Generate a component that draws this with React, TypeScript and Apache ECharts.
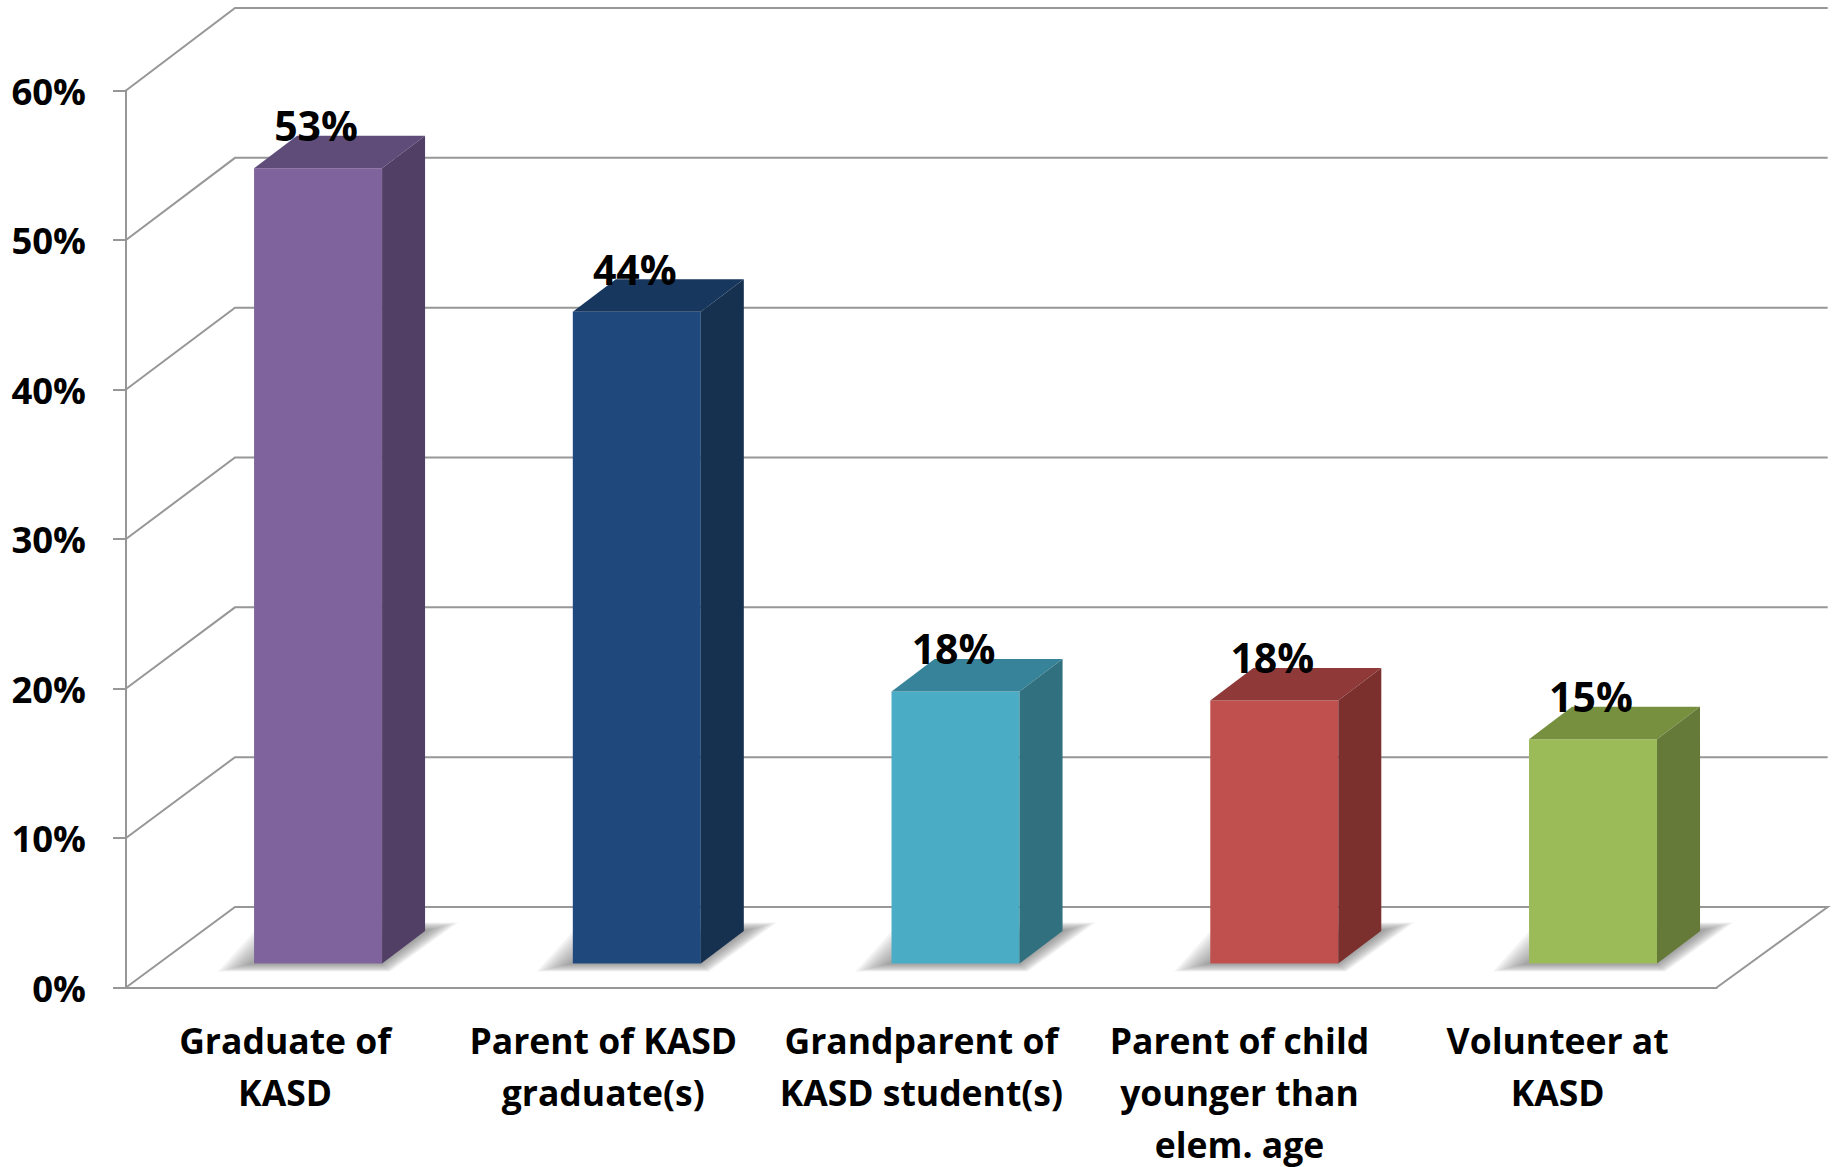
import React, { useEffect, useRef } from "react";
import * as echarts from "echarts";

const categories = [
  "Graduate of\nKASD",
  "Parent of KASD\ngraduate(s)",
  "Grandparent of\nKASD student(s)",
  "Parent of child\nyounger than\nelem. age",
  "Volunteer at\nKASD",
];
const values = [53.2, 43.6, 18.2, 17.6, 15.0];
const gridValues = [0, 10, 20, 30, 40, 50, 60];
const frontColors = ["#7F639D", "#1F497D", "#4BACC6", "#C0504D", "#9BBB59"];
const topColors = ["#604C79", "#17375E", "#37849A", "#8F3A38", "#77903F"];
const sideColors = ["#523F66", "#16304F", "#31707F", "#7B302E", "#657A38"];

const FONT = "'Open Sans', Lato, sans-serif";
const GRID_COLOR = "#979797";
const WALL_DX = 109;
const WALL_DY = 80.5;
const BAR_W = 128;
const BAR_DX = 43;
const BAR_DY = 32.5;
const BAR_SHIFT_X = 33;
const BAR_SHIFT_Y = -24;
const SHADOW_LAYERS = 10;

function renderGrid(params: any, api: any) {
  const v = api.value(0);
  const cs = params.coordSys;
  const y = api.coord([0, v])[1];
  const dy = WALL_DY + (v / 60) * 2;
  const pts = [
    [cs.x, y],
    [cs.x + WALL_DX, y - dy],
    [cs.x + cs.width + WALL_DX + 2, y - dy],
  ];
  if (v === 0) pts.push([cs.x + cs.width, y]);
  return {
    type: "polyline",
    silent: true,
    shape: { points: pts },
    style: { stroke: GRID_COLOR, lineWidth: 2, fill: "none" },
  };
}

function shadowLayers(x0: number, x1: number, yB: number) {
  const outer = [
    [x0 - 36, yB + 8],
    [x1 + 8, yB + 8],
    [x1 + 76, yB - 41],
    [x1 + 40, yB - 41],
    [x0, yB - 32],
  ];
  const inner = [
    [x0 - 6, yB + 1],
    [x1, yB + 1],
    [x1 + 48, yB - 34],
    [x1 + 30, yB - 34],
    [x0 + 10, yB - 8],
  ];
  const layers = [];
  for (let k = 0; k < SHADOW_LAYERS; k++) {
    const t = k / (SHADOW_LAYERS - 1);
    layers.push({
      type: "polygon",
      shape: {
        points: outer.map((p, j) => [
          p[0] + (inner[j][0] - p[0]) * t,
          p[1] + (inner[j][1] - p[1]) * t,
        ]),
      },
      style: { fill: "rgba(90,90,90,0.075)" },
    });
  }
  return layers;
}

function renderBar(params: any, api: any) {
  const i = params.dataIndex;
  const top = api.coord([i, api.value(1)]);
  const base = api.coord([i, 0]);
  const cx = top[0] + BAR_SHIFT_X + i * 0.6;
  const x0 = cx - BAR_W / 2;
  const x1 = cx + BAR_W / 2;
  const yB = base[1] + BAR_SHIFT_Y;
  const yT = top[1] + BAR_SHIFT_Y;
  return {
    type: "group",
    children: [
      ...shadowLayers(x0, x1, yB),
      {
        type: "rect",
        shape: { x: x0, y: yT, width: BAR_W, height: yB - yT },
        style: { fill: frontColors[i] },
      },
      {
        type: "polygon",
        shape: {
          points: [
            [x0, yT],
            [x0 + BAR_DX, yT - BAR_DY],
            [x1 + BAR_DX, yT - BAR_DY],
            [x1, yT],
          ],
        },
        style: { fill: topColors[i] },
      },
      {
        type: "polygon",
        shape: {
          points: [
            [x1, yT],
            [x1 + BAR_DX, yT - BAR_DY],
            [x1 + BAR_DX, yB - BAR_DY],
            [x1, yB],
          ],
        },
        style: { fill: sideColors[i] },
      },
      {
        type: "text",
        x: cx - 2,
        y: yT - 43,
        style: {
          text: `${Math.round(values[i])}%`,
          fill: "#000",
          font: `bold 41px ${FONT}`,
          align: "center",
          verticalAlign: "middle",
        },
      },
    ],
  };
}

export default function App() {
  const ref = useRef<HTMLDivElement>(null);
  useEffect(() => {
    const chart = echarts.init(ref.current!, undefined, { renderer: "svg" });
    chart.setOption({
      animation: false,
      backgroundColor: "#fff",
      grid: { left: 126, top: 90.5, width: 1590.7, height: 897, outerBoundsMode: "none" },
      xAxis: {
        type: "category",
        data: categories,
        axisLine: { lineStyle: { color: GRID_COLOR, width: 2 } },
        axisTick: { length: 13, alignWithLabel: false, lineStyle: { color: GRID_COLOR, width: 2 } },
        axisLabel: {
          interval: 0,
          margin: 26,
          color: "#000",
          fontFamily: FONT,
          fontWeight: "bold",
          fontSize: 35.5,
          lineHeight: 52,
          verticalAlign: "top",
          hideOverlap: false,
        },
      },
      yAxis: {
        type: "value",
        min: 0,
        max: 60,
        interval: 10,
        splitLine: { show: false },
        axisLine: { show: true, lineStyle: { color: GRID_COLOR, width: 2 } },
        axisTick: { show: true, length: 13, lineStyle: { color: GRID_COLOR, width: 2 } },
        axisLabel: {
          margin: 40,
          color: "#000",
          fontFamily: FONT,
          fontWeight: "bold",
          fontSize: 36.5,
          formatter: "{value}%",
        },
      },
      series: [
        {
          type: "custom",
          name: "grid",
          data: gridValues.map((v) => [v]),
          encode: { y: 0 },
          renderItem: renderGrid,
          silent: true,
          z: 1,
        },
        {
          type: "custom",
          name: "bars",
          data: values.map((v, i) => [i, v]),
          encode: { x: 0, y: 1 },
          renderItem: renderBar,
          silent: true,
          z: 2,
        },
      ],
    });
    return () => chart.dispose();
  }, []);
  return (
    <div
      ref={ref}
      style={{ position: "absolute", left: 0, top: 0, width: 1833, height: 1167, background: "#fff" }}
    />
  );
}
